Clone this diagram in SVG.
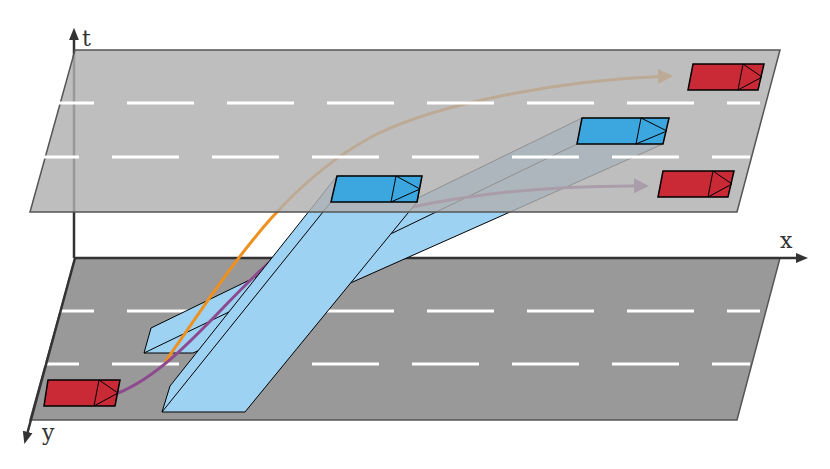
<svg xmlns="http://www.w3.org/2000/svg" width="830" height="469" viewBox="0 0 830 469">
<style>
.plane{stroke:#555;stroke-width:1.5}
.dash{stroke:#fff;stroke-width:3;stroke-dasharray:67 33;stroke-dashoffset:31;fill:none}
.prism{fill:#9dd2f3;stroke:#000;stroke-width:1}
.red{fill:#c92a36;stroke:#000;stroke-width:1.5}
.blue{fill:#3ca6de;stroke:#000;stroke-width:1.5}
.det{fill:none;stroke:#000;stroke-width:1}
.lbl{font-family:"DejaVu Serif",serif;font-size:22px;fill:#333}
.axis{stroke:#333;stroke-width:2.5;fill:none}
</style>
<defs>
<marker id="ao" viewBox="0 0 10 10" refX="8" refY="5" markerWidth="5" markerHeight="5" orient="auto"><path d="M0,0L10,5L0,10z" fill="#f0901e"/></marker>
<marker id="ap" viewBox="0 0 10 10" refX="8" refY="5" markerWidth="5" markerHeight="5" orient="auto"><path d="M0,0L10,5L0,10z" fill="#8e4a8e"/></marker>
<marker id="ax" viewBox="0 0 10 10" refX="5" refY="5" markerWidth="5" markerHeight="5" orient="auto"><path d="M0,1L10,5L0,9z" fill="#333"/></marker>
</defs>
<g id="bottom-plane">
<polygon class="plane" points="75,258 780,258 737,420 30,420" fill="#999"/>
<line class="dash" x1="58" y1="311" x2="760" y2="311"/>
<line class="dash" x1="43" y1="364" x2="750" y2="364"/>
</g>
<g id="axes">
<line class="axis" x1="74" y1="258" x2="74" y2="34" marker-end="url(#ax)"/>
<line class="axis" x1="74" y1="258" x2="802" y2="258" marker-end="url(#ax)"/>
<line class="axis" x1="75" y1="258" x2="26" y2="438" marker-end="url(#ax)"/>
<text class="lbl" x="82" y="46">t</text>
<text class="lbl" x="780" y="248">x</text>
<text class="lbl" x="42" y="440">y</text>
</g>
<g id="prism-2">
<polygon class="prism" points="144,353 151,328 582,118 669,118 663,144 193,353"/>
<line class="det" x1="144" y1="353" x2="577" y2="144"/>
</g>
<g id="connectors">
<path d="M165,362 C230,270 280,185 375,135 C440,103 560,80 670,76" stroke="#f0901e" stroke-width="3" fill="none" marker-end="url(#ao)"/>
<path d="M118,393 C175,370 225,300 270,262 C320,222 460,184 646,186" stroke="#8e4a8e" stroke-width="3" fill="none" marker-end="url(#ap)"/>
</g>
<g id="prism-1">
<polygon class="prism" points="162,412 170,386 337,176 422,176 417,202 245,412"/>
<line class="det" x1="162" y1="412" x2="331" y2="202" stroke-width="1.5"/>
</g>
<g id="top-plane">
<polygon class="plane" points="75,50 780,50 737,212 30,212" fill="#b0b0b0" fill-opacity="0.82"/>
<line class="dash" x1="58" y1="103" x2="760" y2="103"/>
<line class="dash" x1="43" y1="157" x2="750" y2="157"/>
</g>
<g id="car-start">
<polygon class="red" points="48,380 120,380 115,406 44,406"/>
<path class="det" d="M99,380L94,406M99,380L118,393L94,406"/>
</g>
<g id="car-top-1">
<polygon class="red" points="693,64 764,64 758,90 688,90"/>
<path class="det" d="M743,64L738,90M743,64L762,77L738,90"/>
</g>
<g id="car-top-2">
<polygon class="red" points="663,171 734,171 728,197 658,197"/>
<path class="det" d="M713,171L708,197M713,171L732,184L708,197"/>
</g>
<g id="car-blue-1">
<polygon class="blue" points="337,176 422,176 417,202 331,202"/>
<path class="det" d="M396,176L391,202M396,176L420,189L391,202"/>
</g>
<g id="car-blue-2">
<polygon class="blue" points="582,118 669,118 663,144 577,144"/>
<path class="det" d="M641,118L636,144M641,118L667,131L636,144"/>
</g>
</svg>
